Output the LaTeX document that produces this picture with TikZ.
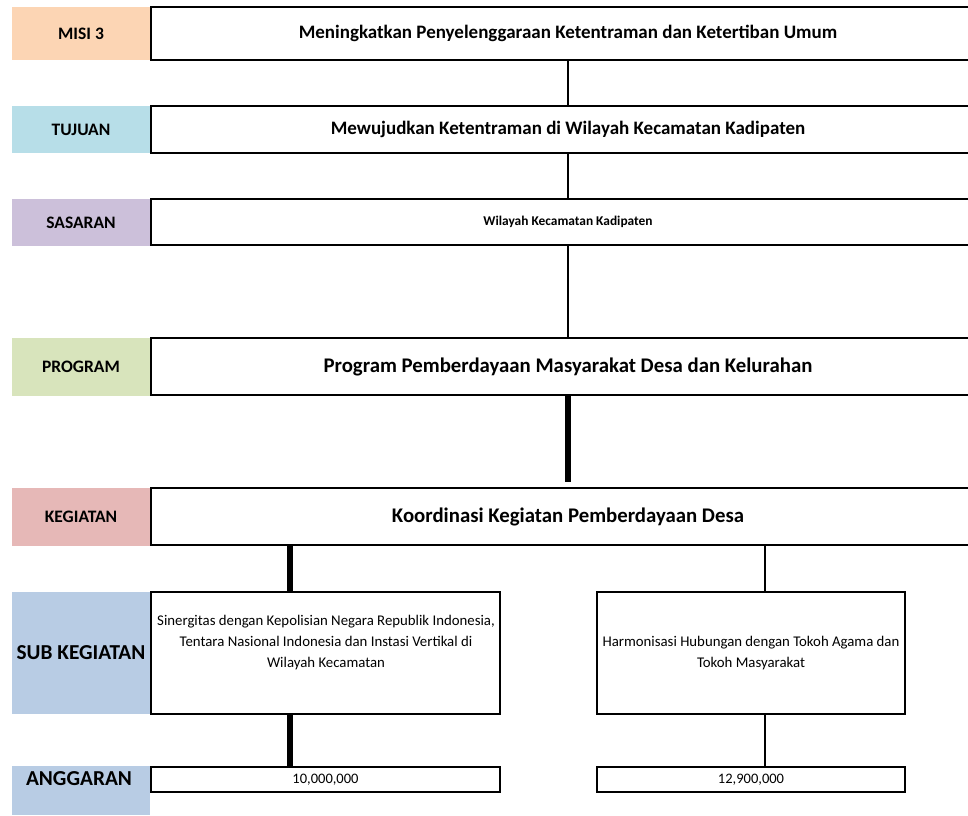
\documentclass[tikz,border=0pt]{standalone}
\usepackage{fontspec}
\setmainfont{Carlito}
\definecolor{cmisi}{HTML}{FCD5B4}
\definecolor{ctuj}{HTML}{B7DEE8}
\definecolor{csas}{HTML}{CCC0DA}
\definecolor{cprog}{HTML}{D8E4BC}
\definecolor{ckeg}{HTML}{E6B8B7}
\definecolor{csub}{HTML}{B8CCE4}
\tikzset{
  lab/.style={inner sep=0pt, minimum width=138pt, font=\bfseries\fontsize{17.5}{20}\selectfont},
  bigtext/.style={font=\bfseries\fontsize{21.3}{24}\selectfont},
  mainbox/.style={draw, line width=2pt, inner sep=0pt, minimum width=834pt},
  toptext/.style={font=\bfseries\fontsize{19}{22}\selectfont},
  smalltext/.style={font=\bfseries\fontsize{13.4}{16}\selectfont},
  midtext/.style={font=\bfseries\fontsize{20.8}{24}\selectfont},
  subbox/.style={draw, line width=2pt, inner sep=0pt},
  subtext/.style={inner sep=0pt, align=center, font=\fontsize{14.8}{21}\selectfont},
  angbox/.style={draw, line width=2pt, inner sep=0pt, font=\fontsize{14.5}{17}\selectfont},
  thinline/.style={line width=2pt},
  thickline/.style={line width=5.5pt}
}
\begin{document}
\begin{tikzpicture}[x=1pt,y=-1pt]
\useasboundingbox (0,0) rectangle (968,815);
\clip (0,0) rectangle (968,815);
% labels
\node[lab, fill=cmisi, minimum height=53pt] (lmisi) at (81,33.5) {MISI 3};
\node[lab, fill=ctuj, minimum height=47pt] (ltuj) at (81,129.5) {TUJUAN};
\node[lab, fill=csas, minimum height=47pt] (lsas) at (81,222.5) {SASARAN};
\node[lab, fill=cprog, minimum height=58pt] (lprog) at (81,367) {PROGRAM};
\node[lab, fill=ckeg, minimum height=58pt] (lkeg) at (81,517) {KEGIATAN};
\node[lab, bigtext, fill=csub, minimum height=122pt] (lsub) at (81,653) {SUB KEGIATAN};
\fill[csub] (12,766) rectangle (150,815);
\node[lab, bigtext] (lang) at (79,779) {ANGGARAN};
% main boxes
\node[mainbox, toptext, minimum height=53pt] (misi) at (568,33.5) {Meningkatkan Penyelenggaraan Ketentraman dan Ketertiban Umum};
\node[mainbox, toptext, minimum height=47pt] (tuj) at (568,129.5) {Mewujudkan Ketentraman di Wilayah Kecamatan Kadipaten};
\node[mainbox, smalltext, minimum height=46pt] (sas) at (568,222) {Wilayah Kecamatan Kadipaten};
\node[mainbox, midtext, minimum height=57pt] (prog) at (568,366.5) {Program Pemberdayaan Masyarakat Desa dan Kelurahan};
\node[mainbox, midtext, minimum height=57pt] (keg) at (568,516.5) {Koordinasi Kegiatan Pemberdayaan Desa};
% sub boxes
\node[subbox, minimum width=349pt, minimum height=122pt] (sub1) at (325.5,653) {};
\node[subtext] (sub1t) at (326,643) {Sinergitas dengan Kepolisian Negara Republik Indonesia,\\Tentara Nasional Indonesia dan Instasi Vertikal di\\Wilayah Kecamatan};
\node[subbox, subtext, minimum width=308pt, minimum height=122pt] (sub2) at (751,653) {Harmonisasi Hubungan dengan Tokoh Agama dan\\Tokoh Masyarakat};
\node[angbox, minimum width=349pt, minimum height=25pt] (ang1) at (325.5,779.5) {10,000,000};
\node[angbox, minimum width=308pt, minimum height=25pt] (ang2) at (751,779.5) {12,900,000};
% connectors
\coordinate (cx1) at (290,0);
\coordinate (cx2) at (765,0);
\draw[thinline] (misi.south) -- (tuj.north);
\draw[thinline] (tuj.south) -- (sas.north);
\draw[thinline] (sas.south) -- (prog.north);
\draw[thickline] (prog.south) -- ([yshift=5pt]keg.north);
\draw[thickline] (keg.south -| cx1) -- (sub1.north -| cx1);
\draw[thinline] (keg.south -| cx2) -- (sub2.north -| cx2);
\draw[thickline] (sub1.south -| cx1) -- (ang1.north -| cx1);
\draw[thinline] (sub2.south -| cx2) -- (ang2.north -| cx2);
\end{tikzpicture}
\end{document}
